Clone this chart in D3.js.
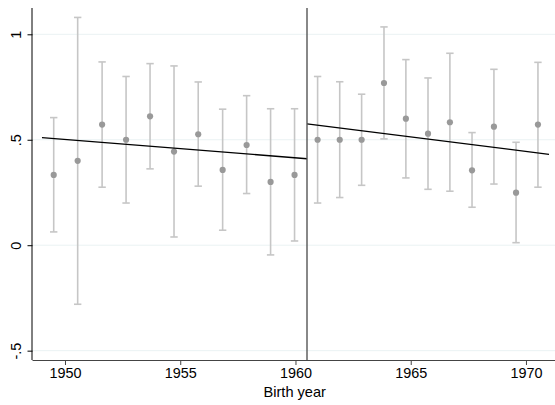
<!DOCTYPE html>
<html><head><meta charset="utf-8">
<script src="https://cdn.jsdelivr.net/npm/d3@7"></script>
<style>body{margin:0;background:#fff}svg{display:block}text{font-family:"Liberation Sans",Arial,sans-serif;fill:#000}</style>
</head><body><svg id="c" width="555" height="405"></svg>
<script>
// Data
const leftYears  = [1949.51,1950.55,1951.61,1952.65,1953.69,1954.73,1955.78,1956.84,1957.88,1958.92,1959.96];
const leftEst    = [0.333,0.400,0.572,0.500,0.611,0.444,0.526,0.357,0.475,0.300,0.333];
const leftLo     = [0.063,-0.280,0.275,0.200,0.362,0.039,0.280,0.071,0.245,-0.046,0.020];
const leftHi     = [0.605,1.080,0.869,0.800,0.861,0.850,0.774,0.645,0.709,0.647,0.647];
const rightYears = [1960.96,1961.92,1962.87,1963.84,1964.79,1965.75,1966.70,1967.66,1968.61,1969.57,1970.52];
const rightEst   = [0.500,0.500,0.500,0.769,0.600,0.529,0.583,0.355,0.562,0.249,0.572];
const rightLo    = [0.200,0.226,0.284,0.504,0.319,0.265,0.256,0.180,0.290,0.012,0.275];
const rightHi    = [0.800,0.775,0.716,1.035,0.880,0.793,0.910,0.534,0.834,0.488,0.867];
const leftFit    = [[1949.0,0.510],[1960.5,0.410]];
const rightFit   = [[1960.5,0.575],[1971.0,0.431]];
const cutoff     = 1960.5;
const xTicks     = [1950,1955,1960,1965,1970];
const yTicks     = [-0.5,0,0.5,1];
const yTickLabels= ["-.5","0",".5","1"];
const xTitle     = "Birth year";

const svg = d3.select("#c");
const L = 32.5, R = 555, T = 8, B = 360;
const x = d3.scaleLinear().domain([1948.59,1971.26]).range([L,R]);
const y = d3.scaleLinear().domain([-0.5443,1.1247]).range([B,T]);

// grid
svg.append("g").selectAll("line").data(yTicks).join("line")
  .attr("x1",L).attr("x2",R).attr("y1",d=>y(d)).attr("y2",d=>y(d))
  .attr("stroke","#eaf2f3").attr("stroke-width",1);

const pts = leftYears.map((d,i)=>({x:d,e:leftEst[i],lo:leftLo[i],hi:leftHi[i]}))
  .concat(rightYears.map((d,i)=>({x:d,e:rightEst[i],lo:rightLo[i],hi:rightHi[i]})));

// error bars
const eb = svg.append("g").attr("stroke","#c6c6c6").attr("stroke-width",1.6).attr("fill","none");
pts.forEach(p=>{
  eb.append("line").attr("x1",x(p.x)).attr("x2",x(p.x)).attr("y1",y(p.lo)).attr("y2",y(p.hi));
  eb.append("line").attr("x1",x(p.x)-3.7).attr("x2",x(p.x)+3.7).attr("y1",y(p.lo)).attr("y2",y(p.lo));
  eb.append("line").attr("x1",x(p.x)-3.7).attr("x2",x(p.x)+3.7).attr("y1",y(p.hi)).attr("y2",y(p.hi));
});
// points
svg.append("g").selectAll("circle").data(pts).join("circle")
  .attr("cx",d=>x(d.x)).attr("cy",d=>y(d.e)).attr("r",3.1).attr("fill","#999999");

// fit lines
const line = d3.line().x(d=>x(d[0])).y(d=>y(d[1]));
[leftFit,rightFit].forEach(f=>svg.append("path").attr("d",line(f)).attr("stroke","#000").attr("stroke-width",1.3).attr("fill","none"));

// cutoff
svg.append("line").attr("x1",x(cutoff)).attr("x2",x(cutoff)).attr("y1",T).attr("y2",B)
  .attr("stroke","#555").attr("stroke-width",1.4);

// axes
const xa = svg.append("g").attr("transform",`translate(0,${B})`)
  .call(d3.axisBottom(x).tickValues(xTicks).tickSize(5).tickPadding(3).tickFormat(d3.format("d")));
xa.select(".domain").attr("stroke","#444").attr("d",`M${L},0.5H${R}`);
xa.selectAll(".tick line").attr("stroke","#444");
xa.selectAll("text").attr("font-size","14.4px").attr("fill","#000").style("font-family","'Liberation Sans',Arial,sans-serif");

const ya = svg.append("g").attr("transform",`translate(${L},0)`)
  .call(d3.axisLeft(y).tickValues(yTicks).tickSize(5).tickFormat((d,i)=>yTickLabels[i]));
ya.select(".domain").attr("stroke","#000").attr("d",`M-0.5,${T}V${B}`);
ya.selectAll(".tick line").attr("stroke","#000");
ya.selectAll("text").attr("font-size","14.4px").attr("fill","#000")
  .attr("x",0).attr("dy",0).attr("text-anchor","middle")
  .attr("transform","translate(-12,0) rotate(-90)")
  .style("font-family","'Liberation Sans',Arial,sans-serif");

svg.append("text").attr("x",(L+R)/2+1).attr("y",397).attr("text-anchor","middle")
  .attr("font-size","14.6px").text(xTitle);
</script></body></html>
